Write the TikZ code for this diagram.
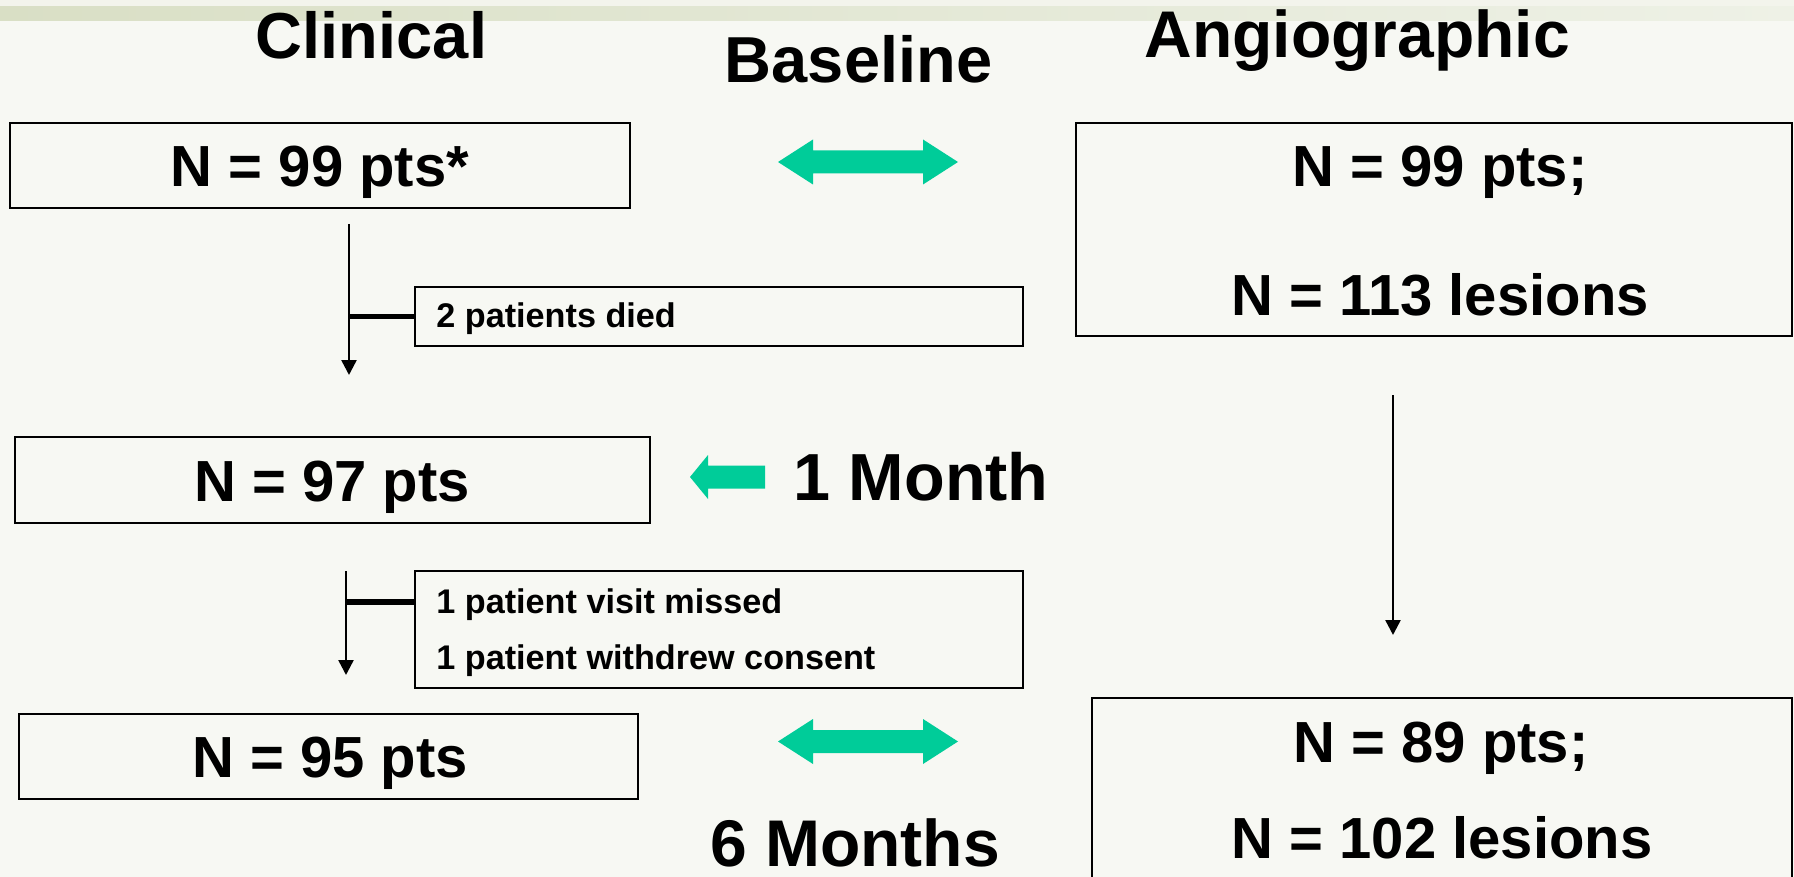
\documentclass[tikz,border=0pt]{standalone}
\usepackage{fontspec}
\setmainfont{Liberation Sans}
\usetikzlibrary{arrows.meta}
\definecolor{bg}{HTML}{F7F8F3}
\definecolor{bandL}{HTML}{D9DFC5}
\definecolor{bandR}{HTML}{EEF1E6}
\definecolor{topstrip}{HTML}{F3F4EC}
\definecolor{teal}{HTML}{00CC99}
\begin{document}
\begin{tikzpicture}[x=0.5pt,y=-0.5pt,
  box/.style={draw=black, line width=1.1pt, inner sep=0pt, rectangle},
  title/.style={font=\fontsize{32.5}{39}\selectfont\bfseries, anchor=base, inner sep=0pt},
  big/.style={font=\fontsize{29}{35}\selectfont\bfseries, anchor=base, inner sep=0pt},
  small/.style={font=\fontsize{17.1}{20}\selectfont\bfseries, anchor=base west, inner sep=0pt},
  flow/.style={line width=1.25pt, -{Triangle[width=7.5pt,length=7.5pt]}},
  branch/.style={line width=2.75pt},
  greenarrow/.style={fill=teal}]
\useasboundingbox (0,0) rectangle (1794,877);
\clip (0,0) rectangle (1794,877);
% background
\fill[bg] (0,0) rectangle (1794,877);
\fill[topstrip] (0,0) rectangle (1794,7);
\shade[left color=bandL, right color=bandR] (0,7) rectangle (1794,21);

% titles
\node[title] (tclin) at (371.5,59) {Clinical};
\node[title] (tbase) at (858.5,83) {Baseline};
\node[title, font=\fontsize{33}{40}\selectfont\bfseries] (tangio) at (1357,58) {Angiographic};
\node[title, font=\fontsize{33.3}{40}\selectfont\bfseries, anchor=base west] (tmonth) at (793,500) {1 Month};
\node[title, font=\fontsize{33}{40}\selectfont\bfseries] (tsix) at (855,866) {6 Months};

% clinical boxes
\node[box, minimum width=310pt, minimum height=42.5pt] (b1) at (320,165.5) {};
\node[big] (b1t) at (320,187) {N = 99 pts*};
\node[box, minimum width=317.5pt, minimum height=43pt] (b2) at (332.5,480) {};
\node[big] (b2t) at (332,501) {N = 97 pts};
\node[box, minimum width=309.5pt, minimum height=42.5pt] (b3) at (328.5,756.5) {};
\node[big] (b3t) at (330,777) {N = 95 pts};

% side boxes
\node[box, minimum width=304pt, minimum height=29.5pt] (died) at (719,316.5) {};
\node[small] (diedt) at (436,328) {2 patients died};
\node[box, minimum width=304pt, minimum height=58.5pt] (lost) at (719,629.5) {};
\node[small] (lost1) at (436,613) {1 patient visit missed};
\node[small] (lost2) at (436,669) {1 patient withdrew consent};

% angiographic boxes
\node[box, minimum width=358pt, minimum height=106.5pt] (ba) at (1434,229.5) {};
\node[big] (bat1) at (1440,187) {N = 99 pts;};
\node[big] (bat2) at (1440,315) {N = 113 lesions};
\node[box, minimum width=350pt, minimum height=96pt] (bb) at (1442,794) {};
\node[big] (bbt1) at (1441,762) {N = 89 pts;};
\node[big] (bbt2) at (1442,858) {N = 102 lesions};

% clinical flow
\coordinate (c1s) at (349,224);
\coordinate (c1e) at (349,375);
\draw[flow] (c1s) -- (c1e);
\draw[branch] (c1s |- died.west) -- (died.west);
\coordinate (c2s) at (346,571);
\coordinate (c2e) at (346,675);
\coordinate (j2) at (346,602);
\draw[flow] (c2s) -- (c2e);
\draw[branch] (j2) -- (j2 -| lost.west);

% angiographic flow
\coordinate (a1s) at (1393,395);
\coordinate (a1e) at (1393,635);
\draw[flow] (a1s) -- (a1e);

% green arrows
\fill[greenarrow] (778,162) -- (813,139.5) -- (813,150.5) -- (923,150.5) -- (923,139.5) -- (958,162)
  -- (923,184.5) -- (923,173.5) -- (813,173.5) -- (813,184.5) -- cycle;
\fill[greenarrow] (778,741.5) -- (813,719) -- (813,730) -- (923,730) -- (923,719) -- (958,741.5)
  -- (923,764) -- (923,753) -- (813,753) -- (813,764) -- cycle;
\fill[greenarrow] (690,477) -- (708,455) -- (708,465.5) -- (765,465.5) -- (765,488.5) -- (708,488.5)
  -- (708,499) -- cycle;
\end{tikzpicture}
\end{document}
